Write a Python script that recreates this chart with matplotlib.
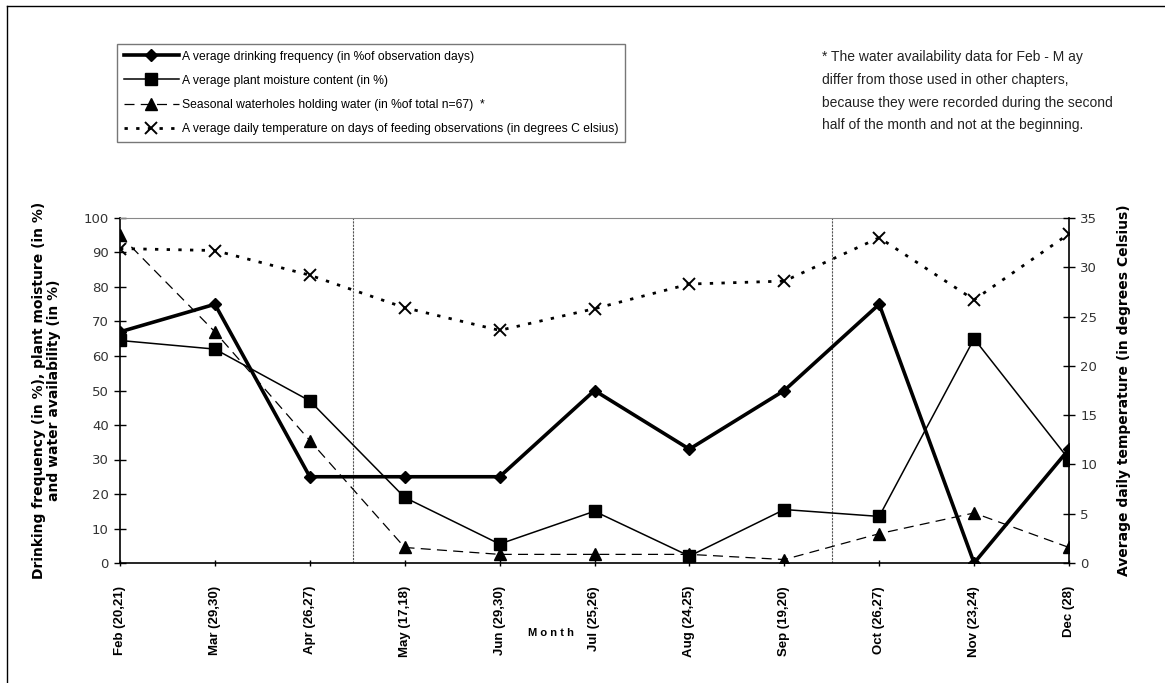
import numpy as np
import matplotlib
matplotlib.use("Agg")
import matplotlib.pyplot as plt
from matplotlib.lines import Line2D

months = ["Feb (20,21)", "Mar (29,30)", "Apr (26,27)", "May (17,18)", "Jun (29,30)",
          "Jul (25,26)", "Aug (24,25)", "Sep (19,20)", "Oct (26,27)", "Nov (23,24)", "Dec (28)"]
drinking = [67, 75, 25, 25, 25, 50, 33, 50, 75, 0, 33]
moisture = [64.5, 62, 47, 19, 5.5, 15, 2, 15.5, 13.5, 65, 30]
waterholes = [95, 67, 35.5, 4.5, 2.5, 2.5, 2.5, 1, 8.5, 14.5, 4.5]
temperature = [31.9, 31.7, 29.2, 25.9, 23.6, 25.8, 28.3, 28.6, 33.0, 26.7, 33.4]
dividers = [2.45, 7.5]

arial = ["Liberation Sans", "DejaVu Sans"]
heavy = ["DejaVu Sans"]

x = np.arange(len(months))

fig = plt.figure(figsize=(11.65, 6.83), dpi=100)
ax = fig.add_axes([120 / 1165, 1 - 563 / 683, (1069 - 120) / 1165, (563 - 218) / 683])
ax2 = ax.twinx()

l1, = ax.plot(x, drinking, "-", color="black", lw=2.6, marker="D", ms=6.5,
              label="A verage drinking frequency (in %of observation days)", zorder=4)
l2, = ax.plot(x, moisture, "-", color="black", lw=1.1, marker="s", ms=9,
              label="A verage plant moisture content (in %)", zorder=4)
l3, = ax.plot(x, waterholes, color="black", lw=0.9, dashes=(8, 5), marker="^", ms=8,
              label="Seasonal waterholes holding water (in %of total n=67)  *", zorder=4)
l4, = ax2.plot(x, temperature, color="black", lw=2.0, dashes=(1.2, 3), marker="x", ms=9, mew=1.4,
               label="A verage daily temperature on days of feeding observations (in degrees C elsius)")

for d in dividers:
    ax.axvline(d, color="#555555", lw=0.8, ls=(0, (2, 1)), zorder=1)

ax.set_xlim(0, 10)
ax.set_ylim(0, 100)
ax2.set_ylim(0, 35)
ax.set_yticks(np.arange(0, 101, 10))
ax2.set_yticks(np.arange(0, 36, 5))
ax.set_xticks(x)
ax.set_xticklabels(months, rotation=90, fontsize=9.5, fontweight="bold", family=arial)

for a in (ax, ax2):
    for s in a.spines.values():
        s.set_visible(False)
ax.spines["left"].set_visible(True)
ax.spines["bottom"].set_visible(True)
ax.spines["top"].set_visible(True)
ax.spines["top"].set_color("#888888")
ax2.spines["right"].set_visible(True)
for s in ("left", "bottom"):
    ax.spines[s].set_linewidth(1.2)
ax2.spines["right"].set_linewidth(1.2)

ax.tick_params(axis="y", direction="inout", length=8, width=1, labelsize=9.5, labelcolor="#333333", pad=4)
ax.tick_params(axis="x", direction="inout", length=5, width=1, pad=14)
ax2.tick_params(axis="y", direction="inout", length=8, width=1, labelsize=9.5, labelcolor="#333333", pad=4)

ax.set_ylabel("Drinking frequency (in %), plant moisture (in %)\nand water availability (in %)",
              fontsize=10, fontweight="heavy", family=heavy, labelpad=16, linespacing=1.1)
ax2.set_ylabel("Average daily temperature (in degrees Celsius)", fontsize=10, fontweight="heavy",
               family=heavy, labelpad=14)

fig.text(551 / 1165, 1 - 633 / 683, "M o n t h", fontsize=8, fontweight="bold", ha="center", va="center",
         family=arial)

leg = fig.legend(handles=[l1, l2, l3, l4], loc="upper left",
                 bbox_to_anchor=(117 / 1165, 1 - 44 / 683), frameon=True, fancybox=False,
                 edgecolor="#555555", handlelength=4.6, handletextpad=0.2, borderpad=0.55,
                 labelspacing=1.0, prop={"family": arial, "size": 8.7}, borderaxespad=0)
leg.get_frame().set_linewidth(1.0)

note = ("* The water availability data for Feb - M ay\n"
        "differ from those used in other chapters,\n"
        "because they were recorded during the second\n"
        "half of the month and not at the beginning.")
fig.text(822 / 1165, 1 - 50 / 683, note, fontsize=10, ha="left", va="top", linespacing=1.8,
         color="#222222", family=arial)

fig.add_artist(Line2D([7 / 1165, 7 / 1165], [0, 1 - 6 / 683], transform=fig.transFigure, color="black", lw=1))
fig.add_artist(Line2D([7 / 1165, 1], [1 - 6 / 683, 1 - 6 / 683], transform=fig.transFigure, color="black", lw=1))

fig.savefig("out.png", dpi=100)
